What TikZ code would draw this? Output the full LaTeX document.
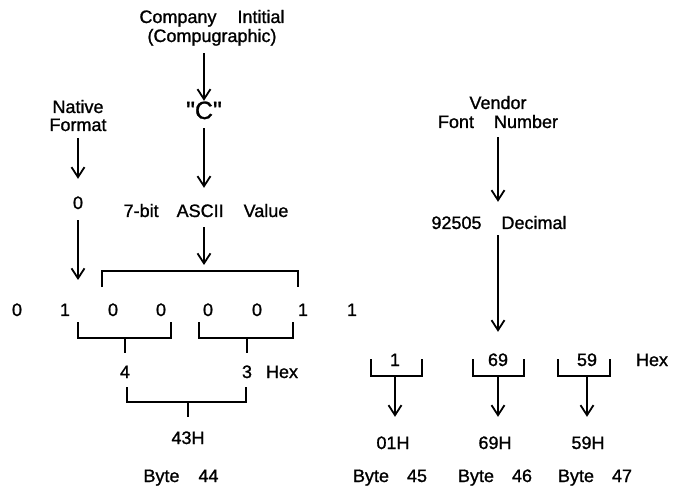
\documentclass[tikz,border=0pt]{standalone}
\usepackage{fontspec}
\setmainfont[FakeBold=1.1]{Liberation Sans}
\newfontfamily\qfont[Ligatures=TeXOff,FakeBold=1.1]{Liberation Sans}
\usetikzlibrary{arrows.meta}
\begin{document}
\begin{tikzpicture}[x=1pt,y=-1pt,
  lbl/.style={font=\fontsize{18}{20}\selectfont, inner sep=0pt, text height=13pt, text depth=4pt, anchor=base},
  big/.style={font=\qfont\fontsize{25}{28}\selectfont, inner sep=0pt, text height=18pt, text depth=4pt, anchor=base},
  ln/.style={line width=1.8pt},
  arr/.style={ln, -{Straight Barb[length=10pt,width=13pt,line width=1.8pt]}}]
\fill[white] (0,0) rectangle (677,486);
\useasboundingbox (0,0) rectangle (677,486);

% left top labels
\node[lbl] (comp1) at (212,23) {Company\hspace{21pt}Intitial};
\node[lbl] (comp2) at (212,42) {(Compugraphic)};
\node[big] (C) at (204,119) {"C"};
\node[lbl] (nat) at (78,113) {Native};
\node[lbl] (fmt) at (78,131) {Format};
\node[lbl] (zero) at (78,209) {0};
\node[lbl] (ascii) at (206,217) {7-bit\hspace{18pt}ASCII\hspace{20pt}Value};

% bits
\foreach \x/\t [count=\i] in {17/0,65/1,113/0,161/0,208/0,257/0,303/1,352/1}
  \node[lbl] (b\i) at (\x,316) {\t};

% big bracket
\draw[ln] (102,287) -- (102,271) -- (298,271) -- (298,287);
\coordinate (bbt) at (204,271);
\coordinate (onein) at (78,280);

% arrows left top
\draw[arr, shorten <=7pt] (comp2.south -| C) -- (C.north);
\draw[arr, shorten <=5pt, shorten >=16pt] (C.south) -- (C.south |- ascii.north);
\draw[arr, shorten <=6pt, shorten >=6pt] (ascii.south -| C) -- (bbt);
\draw[arr, shorten <=3pt, shorten >=17pt] (fmt.south) -- (zero.north);
\draw[arr, shorten <=7pt] (zero.south) -- (onein);

% nibble brackets
\node[lbl] (h4) at (125,378) {4};
\node[lbl] (h3) at (247,378) {3};
\node[lbl] (hexl) at (282,378) {Hex};
\draw[ln] (78,322) -- (78,338) -- (171,338) -- (171,322);
\draw[ln] (199,322) -- (199,338) -- (293,338) -- (293,322);
\coordinate (m1) at (125,338);
\coordinate (m2) at (247,338);
\draw[ln, shorten >=12pt] (m1) -- (h4.north);
\draw[ln, shorten >=12pt] (m2) -- (h3.north);

\node[lbl] (h43) at (188,444) {43H};
\draw[ln] (127,387) -- (127,402) -- (246,402) -- (246,387);
\coordinate (m3) at (188,402);
\draw[ln, shorten >=14pt] (m3) -- (h43.north);
\node[lbl] (by44) at (181,482) {Byte\hspace{19pt}44};

% right side
\node[lbl] (ven) at (498,109) {Vendor};
\node[lbl] (fnum) at (498,128) {Font\hspace{20pt}Number};
\node[lbl] (dec) at (499,229) {92505\hspace{20pt}Decimal};

\node[lbl] (h1) at (395,366) {1};
\node[lbl] (h69) at (498,366) {69};
\node[lbl] (h59) at (587,366) {59};
\node[lbl] (hexr) at (652,366) {Hex};

\draw[arr, shorten <=5pt, shorten >=14pt] (fnum.south) -- (fnum.south |- dec.north);
\draw[arr, shorten <=2pt, shorten >=21pt] (dec.south -| h69) -- (h69.north);

\draw[ln] (371,359) -- (371,376) -- (422,376) -- (422,359);
\draw[ln] (473,359) -- (473,376) -- (524,376) -- (524,359);
\draw[ln] (558,359) -- (558,376) -- (610,376) -- (610,359);
\coordinate (k1) at (395,376);
\coordinate (k2) at (498,376);
\coordinate (k3) at (587,376);

\node[lbl] (o1) at (393,449) {01H};
\node[lbl] (o2) at (495,449) {69H};
\node[lbl] (o3) at (588,449) {59H};
\draw[arr, shorten >=19pt] (k1) -- (k1 |- o1.north);
\draw[arr, shorten >=19pt] (k2) -- (k2 |- o2.north);
\draw[arr, shorten >=19pt] (k3) -- (k3 |- o3.north);

\node[lbl] (by45) at (390,482) {Byte\hspace{18pt}45};
\node[lbl] (by46) at (495,482) {Byte\hspace{18pt}46};
\node[lbl] (by47) at (595,482) {Byte\hspace{18pt}47};
\end{tikzpicture}
\end{document}
